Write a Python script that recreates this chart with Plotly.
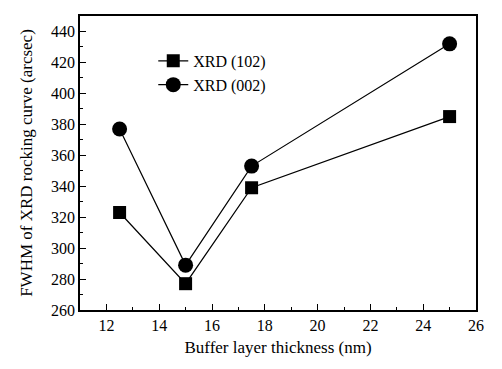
import plotly.graph_objects as go

thickness = [12.5, 15, 17.5, 25]
xrd102 = [323, 277, 339, 385]
xrd002 = [377, 289, 353, 432]

fnt = dict(family="Liberation Serif, Times New Roman, serif", size=16, color="black")
tfnt = dict(family="Liberation Serif, Times New Roman, serif", size=17, color="black")

fig = go.Figure()
fig.add_trace(go.Scatter(x=thickness, y=xrd102, mode="lines+markers", name="XRD (102)",
                         line=dict(color="black", width=1.2),
                         marker=dict(symbol="square", size=13, color="black")))
fig.add_trace(go.Scatter(x=thickness, y=xrd002, mode="lines+markers", name="XRD (002)",
                         line=dict(color="black", width=1.2),
                         marker=dict(symbol="circle", size=15, color="black")))

axis_common = dict(showgrid=False, zeroline=False, showline=True, linecolor="black", linewidth=1.5,
                   mirror=True, ticks="inside", ticklen=6, tickwidth=1, tickcolor="black",
                   tickfont=fnt, automargin=False)
fig.update_xaxes(range=[11, 26], dtick=2, tick0=12,
                 minor=dict(ticks="inside", ticklen=3, dtick=1, tickcolor="black"),
                 title=dict(text="Buffer layer thickness (nm)", font=tfnt, standoff=8), **axis_common)
fig.update_yaxes(range=[260, 450], dtick=20, tick0=260,
                 minor=dict(ticks="inside", ticklen=3, dtick=10, tickcolor="black"),
                 title=dict(text="FWHM of XRD rocking curve (arcsec)", font=tfnt, standoff=14), **axis_common)

# body has an 8px default margin, so the figure is shrunk and shifted accordingly
fig.update_layout(width=494, height=361, margin=dict(l=72, r=26, t=8, b=59),
                  plot_bgcolor="white", paper_bgcolor="white", font=fnt,
                  legend=dict(x=0.185, y=0.905, xanchor="left", yanchor="top",
                              bgcolor="rgba(0,0,0,0)", font=fnt, tracegroupgap=0,
                              itemwidth=30))
fig.write_html("out.html")
